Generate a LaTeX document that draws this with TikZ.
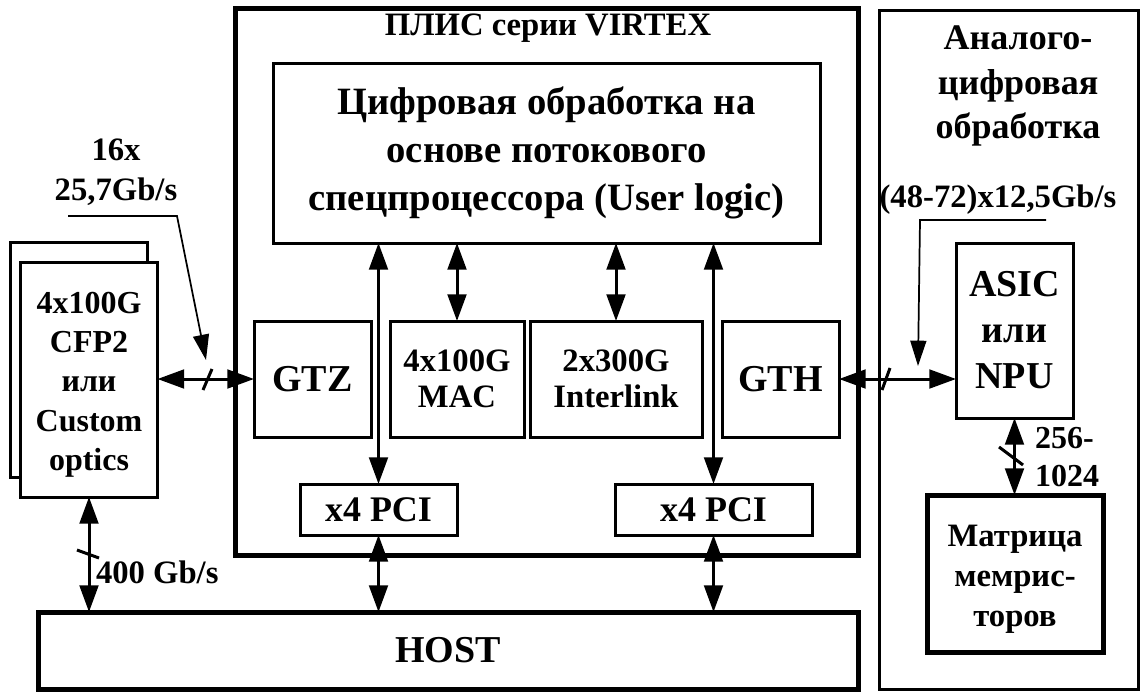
\documentclass[tikz,border=0pt]{standalone}
\usepackage{fontspec}
\setmainfont{Liberation Serif}
\usetikzlibrary{arrows.meta}
\newcommand\fsz[2]{\bfseries\fontsize{#1}{#2}\selectfont}
\begin{document}
\begin{tikzpicture}[x=0.75pt,y=-0.75pt,
  every node/.style={inner sep=0pt, outer sep=0pt, align=center},
  box/.style={draw, line width=2.25pt, fill=white},
  thickbox/.style={draw, line width=3.75pt},
  arr/.style={line width=2.25pt, {Triangle[length=20pt,width=14pt]}-{Triangle[length=20pt,width=14pt]}},
  callout/.style={line width=1.3pt, -{Triangle[length=19pt,width=12pt]}},
  slash/.style={line width=2.25pt},
  ]
\useasboundingbox (0,0) rectangle (1143,693);

% FPGA
\node[thickbox, minimum width={623*0.75pt}, minimum height={547*0.75pt}] (fpga) at (546.5,281.5) {};
\node[font=\fsz{24.5}{30}, anchor=base] (fpgat) at (548,35) {ПЛИС серии VIRTEX};
\node[box, minimum width={547*0.75pt}, minimum height={180*0.75pt}, font=\fsz{29}{36}] (ul) at (546.5,153) {Цифровая обработка на\\основе потокового\\спецпроцессора (User logic)};
\node[box, minimum width={117*0.75pt}, minimum height={116*0.75pt}, font=\fsz{28.5}{34}] (gtz) at (312.5,379) {GTZ};
\node[box, minimum width={134*0.75pt}, minimum height={116*0.75pt}, font=\fsz{24.5}{27}] (mac) at (457,379) {4x100G\\MAC};
\node[box, minimum width={172*0.75pt}, minimum height={116*0.75pt}, font=\fsz{24.5}{27}] (il) at (616,379) {2x300G\\Interlink};
\node[box, minimum width={117*0.75pt}, minimum height={116*0.75pt}, font=\fsz{28.5}{34}] (gth) at (780.5,379) {GTH};
\node[box, minimum width={157*0.75pt}, minimum height={51*0.75pt}, font=\fsz{27}{32}] (pci1) at (378.5,509.5) {x4 PCI};
\node[box, minimum width={197*0.75pt}, minimum height={51*0.75pt}, font=\fsz{27}{32}] (pci2) at (713.5,509.5) {x4 PCI};

% HOST
\node[thickbox, minimum width={820*0.75pt}, minimum height={77*0.75pt}, font=\fsz{28.5}{34}] (host) at (448,650.5) {HOST};

% Analog
\node[draw, line width=2.25pt, minimum width={259*0.75pt}, minimum height={679*0.75pt}] (an) at (1008.5,349.5) {};
\node[font=\fsz{27}{33.5}] (ant) at (1018,86) {Аналого-\\цифровая\\обработка};
\node[box, minimum width={117*0.75pt}, minimum height={175*0.75pt}, font=\fsz{28.5}{34.5}] (asic) at (1014.5,330.5) {ASIC\\или\\NPU};
\node[thickbox, minimum width={176*0.75pt}, minimum height={157*0.75pt}] (mem) at (1015,573.5) {};
\node[font=\fsz{24.5}{30}] (memt) at (1015,579.5) {Матрица\\мемрис-\\торов};

% CFP2
\node[box, minimum width={137*0.75pt}, minimum height={235*0.75pt}] (cfpb) at (79,359.5) {};
\node[box, minimum width={137*0.75pt}, minimum height={235*0.75pt}] (cfp) at (89,379.5) {};
\node[font=\fsz{24}{29.5}] (cfpt) at (89,384.5) {4x100G\\CFP2\\или\\Custom\\optics};

% labels
\node[font=\fsz{24.5}{30}] (l16) at (116,172) {16x\\25,7Gb/s};
\node[font=\fsz{24.5}{30}] (l48) at (998,200) {(48-72)x12,5Gb/s};
\node[font=\fsz{24.5}{30}, anchor=west] (l400) at (96,572) {400 Gb/s};
\node[font=\fsz{24}{29}, anchor=west, align=left] (l256) at (1035,457) {256-\\1024};

% connectors
\draw[arr] (pci1.north |- ul.south) -- (pci1.north);
\draw[arr] (mac.north |- ul.south) -- (mac.north);
\draw[arr] (il.north |- ul.south) -- (il.north);
\draw[arr] (pci2.north |- ul.south) -- (pci2.north);
\draw[arr] (pci1.south) -- (pci1.south |- host.north);
\draw[arr] (pci2.south) -- (pci2.south |- host.north);
\draw[arr] (cfp.south) -- (cfp.south |- host.north);
\draw[arr] (gtz.west -| cfp.east) -- (gtz.west);
\draw[arr] (gth.east) -- (gth.east -| asic.west);
\draw[arr] (asic.south) -- (asic.south |- mem.north);

% bus slashes
\coordinate (s1) at (207.5,379.5);
\coordinate (s2) at (886,379);
\coordinate (s3) at (88,554);
\coordinate (s4) at (1011,456);
\draw[slash] (s1) ++(-4.5,10.5) -- ++(9,-21);
\draw[slash] (s2) ++(-4,11) -- ++(8,-22);
\draw[slash] (s3) ++(-11,-4) -- ++(22,8);
\draw[slash] (s4) ++(-12,-9) -- ++(24,18);

% callouts
\coordinate (c1s) at (68,216);
\coordinate (c1k) at (177,216);
\coordinate (c1t) at (206,360);
\draw[callout] (c1s) -- (c1k) -- (c1t);
\coordinate (c2s) at (1046,220);
\coordinate (c2k) at (920,220);
\coordinate (c2t) at (918,366);
\draw[callout] (c2s) -- (c2k) -- (c2t);
\end{tikzpicture}
\end{document}
